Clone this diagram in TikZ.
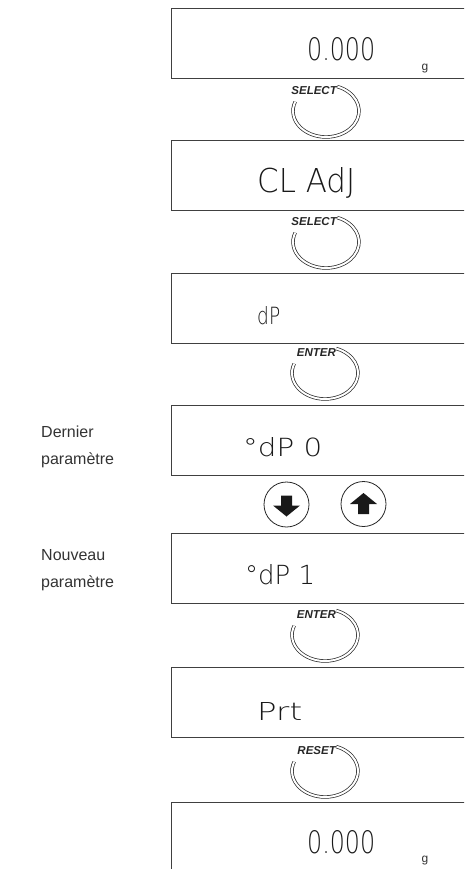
\documentclass[tikz,border=0pt]{standalone}
\usepackage{fontspec}
\usepackage{graphicx}
\setmainfont{Liberation Sans}
\IfFontExistsTF{DejaVu Sans ExtraLight}{\newfontfamily\lcdfont{DejaVu Sans ExtraLight}}{\newfontfamily\lcdfont{DejaVu Sans}}
\newcommand\lcdtxt[3]{\resizebox{#1pt}{#2pt}{\lcdfont #3}}
\tikzset{
  disp/.style={draw=black!75, line width=1.1pt, rectangle, minimum width=320pt, minimum height=#1, anchor=north west, inner sep=0pt},
  disp/.default=70pt,
  lcd/.style={anchor=west, inner sep=0pt, text=black!90},
  unitlbl/.style={inner sep=0pt, font=\fontsize{12}{12}\selectfont, text=black!80},
  btn/.style={draw=black!85, double=white, double distance=2pt, line width=0.7pt},
  btnlabel/.style={anchor=east, inner sep=0pt, font=\fontsize{11.5}{11.5}\selectfont\bfseries\itshape, text=black!85},
  side/.style={anchor=base west, align=left, font=\fontsize{16}{27}\selectfont, text=black!80, inner sep=0pt},
  keyc/.style={circle, draw=black!85, line width=0.8pt, minimum size=45pt, inner sep=0pt},
  keyarrow/.style={fill=black!90}
}
\begin{document}
\begin{tikzpicture}[x=1pt,y=1pt]
\useasboundingbox (0,0) rectangle (464,-869);
\clip (0,0) rectangle (464,-869);

% displays
\node[disp] (d1) at (171,-8) {};
\node[disp] (d2) at (171,-140) {};
\node[disp] (d3) at (171,-273) {};
\node[disp] (d4) at (171,-405) {};
\node[disp] (d5) at (171,-533) {};
\node[disp] (d6) at (171,-667) {};
\node[disp=100pt] (d7) at (171,-802) {};

% display texts
\node[lcd] (t1) at (307,-49) {\lcdtxt{68}{23}{0.000}};
\node[unitlbl] (g1) at (425,-69) {g};
\node[lcd] (t2) at (257,-182.5) {\lcdtxt{98}{25}{CL AdJ}};
\node[lcd] (t3) at (257,-316) {\lcdtxt{23}{18}{dP}};
\node[lcd] (t4) at (243,-447.5) {\lcdtxt{79}{19}{°dP 0}};
\node[lcd] (t5) at (245,-575) {\lcdtxt{70}{20}{°dP 1}};
\node[lcd] (t6) at (257,-711) {\lcdtxt{45}{18}{Prt}};
\node[lcd] (t7) at (307,-842) {\lcdtxt{68}{23}{0.000}};
\node[unitlbl] (g7) at (425,-861) {g};

% side labels (anchor = baseline of the last line)
\node[side] (lab1) at (41,-464) {Dernier\\paramètre};
\node[side] (lab2) at (41,-587) {Nouveau\\paramètre};

% push buttons
\coordinate (b1) at (326,-111);
\coordinate (b2) at (326,-242);
\coordinate (b3) at (325,-373);
\coordinate (b4) at (325,-635);
\coordinate (b5) at (325,-771);
\foreach \b/\t in {b1/SELECT,b2/SELECT,b3/ENTER,b4/ENTER,b5/RESET}{
  \draw[btn] ([shift={(70:33 and 26)}]\b) arc[start angle=70, end angle=-201, x radius=33pt, y radius=26pt];
  \node[btnlabel] (\b l) at ([shift={(11,20)}]\b) {\t};
}

% arrow keys
\node[keyc] (kdown) at (286.5,-504.5) {};
\node[keyc] (kup) at (363.5,-504) {};
\fill[keyarrow] ([shift={(-5.5,9)}]kdown.center) -- ++(11,0) -- ++(0,-10) -- ++(8,0)
  -- ([shift={(0,-12)}]kdown.center) -- ([shift={(-13.5,-1)}]kdown.center) -- ++(8,0) -- cycle;
\fill[keyarrow] ([shift={(0,11)}]kup.center) -- ([shift={(13.5,0)}]kup.center) -- ++(-8,0)
  -- ++(0,-10) -- ++(-11,0) -- ++(0,10) -- ++(-8,0) -- cycle;
\end{tikzpicture}
\end{document}
